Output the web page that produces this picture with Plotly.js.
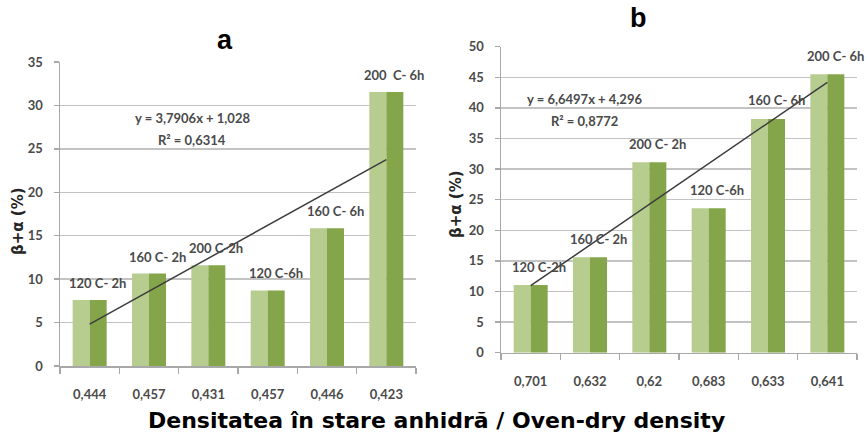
<!DOCTYPE html>
<html>
<head>
<meta charset="utf-8">
<script src="https://cdn.plot.ly/plotly-3.0.1.min.js"></script>
<style>html,body{margin:0;padding:0;background:#fff;}#chart{width:866px;height:435px;}</style>
</head>
<body>
<div id="chart"></div>
<script>
// ---- data ----
const positions = [1, 2, 3, 4, 5, 6];
const categoriesA = ['0,444', '0,457', '0,431', '0,457', '0,446', '0,423'];
const valuesA = [7.6, 10.65, 11.6, 8.7, 15.85, 31.55];
const labelsA = ['120 C- 2h', '160 C- 2h', '200 C-2h', '120 C-6h', '160 C- 6h', '200  C- 6h'];
const trendXA = [1, 6];
const trendYA = [4.82, 23.77];
const equationA = ['y = 3,7906x + 1,028', 'R² = 0,6314'];

const categoriesB = ['0,701', '0,632', '0,62', '0,683', '0,633', '0,641'];
const valuesB = [11.05, 15.6, 31.1, 23.6, 38.2, 45.5];
const labelsB = ['120 C-2h', '160 C- 2h', '200 C- 2h', '120 C-6h', '160 C- 6h', '200 C- 6h'];
const trendXB = [1, 6];
const trendYB = [10.95, 44.19];
const equationB = ['y = 6,6497x + 4,296', 'R² = 0,8772'];

const yTitle = 'β+α (%)';
const titleA = 'a';
const titleB = 'b';
const xTitle = 'Densitatea în stare anhidră / Oven-dry density';

// ---- style ----
const W = 866, H = 435;
const px = x => x / W;
const py = y => 1 - y / H;
const light = '#b6cd8f';
const dark = '#85a54a';
const gridC = '#c3c3c3';
const axisC = '#a8a8a8';
const tickFont = {family: 'Lato, sans-serif', size: 13, color: '#4a4a4a', weight: 'bold'};

function bars(vals, xa, ya) {
  return [
    {type: 'bar', x: positions, y: vals, xaxis: xa, yaxis: ya, marker: {color: light, line: {width: 0}}, hoverinfo: 'skip', showlegend: false},
    {type: 'bar', x: positions, y: vals, xaxis: xa, yaxis: ya, marker: {color: dark, line: {width: 0}}, hoverinfo: 'skip', showlegend: false}
  ];
}
function trend(tx, ty, xa, ya) {
  return {type: 'scatter', mode: 'lines', x: tx, y: ty, xaxis: xa, yaxis: ya, line: {color: '#3c3c3c', width: 1.5}, hoverinfo: 'skip', showlegend: false};
}

const data = [
  ...bars(valuesA, 'x', 'y'), trend(trendXA, trendYA, 'x', 'y'),
  ...bars(valuesB, 'x2', 'y2'), trend(trendXB, trendYB, 'x2', 'y2')
];

function xax(domain, cats) {
  return {
    domain: domain, range: [0.5, 6.5], tickmode: 'array', tickvals: positions, ticktext: cats,
    ticks: '', showline: true, linecolor: axisC, linewidth: 1.5, showgrid: false, zeroline: false,
    tickfont: tickFont, ticklabelstandoff: 16, fixedrange: true,
    minor: {tickmode: 'linear', tick0: 0.5, dtick: 1, ticks: 'outside', ticklen: 6, tickcolor: axisC, tickwidth: 1.5, showgrid: false}
  };
}
function yax(domain, range, anchor) {
  return {
    domain: domain, range: range, dtick: 5, tick0: 0, anchor: anchor,
    ticks: 'outside', ticklen: 5, tickcolor: axisC, tickwidth: 1.5,
    showline: true, linecolor: axisC, linewidth: 1.5,
    showgrid: true, gridcolor: gridC, gridwidth: 1.5, zeroline: false,
    tickfont: tickFont, ticklabelstandoff: 8, fixedrange: true
  };
}

const annotations = [];
function barLabels(labels, vals, xr, yr, ys) {
  labels.forEach((t, i) => annotations.push({
    x: positions[i], y: vals[i], xref: xr, yref: yr, text: t, showarrow: false,
    xanchor: 'center', yanchor: 'middle', xshift: 8, yshift: ys, font: tickFont
  }));
}
barLabels(labelsA, valuesA, 'x', 'y', 17);
barLabels(labelsB, valuesB, 'x2', 'y2', 18.5);

function paperText(t, x, y, font, angle) {
  annotations.push({x: px(x), y: py(y), xref: 'paper', yref: 'paper', text: t, showarrow: false,
    xanchor: 'center', yanchor: 'middle', font: font, textangle: angle || 0});
}
paperText(equationA[0], 192, 118, tickFont);
paperText(equationA[1], 192, 140, tickFont);
paperText(equationB[0], 584, 99, tickFont);
paperText(equationB[1], 584, 121, tickFont);
const yTitleFont = {family: 'DejaVu Sans, sans-serif', size: 15, color: '#262626', weight: 'bold'};
paperText('<b>' + yTitle + '</b>', 18, 221, yTitleFont, -90);
paperText('<b>' + yTitle + '</b>', 456, 204, yTitleFont, -90);
const titleFont = {family: 'Liberation Sans, Arial, sans-serif', size: 27, color: '#000', weight: 'bold'};
paperText('<b>' + titleA + '</b>', 225, 40, titleFont);
paperText('<b>' + titleB + '</b>', 638, 18, titleFont);
paperText('<b>' + xTitle + '</b>', 436, 420, {family: 'DejaVu Sans, sans-serif', size: 22, color: '#000'});

const layout = {
  width: W, height: H,
  margin: {l: 0, r: 0, t: 0, b: 0},
  paper_bgcolor: '#fff', plot_bgcolor: 'rgba(0,0,0,0)',
  barmode: 'group', bargap: 0.427, bargroupgap: 0,
  showlegend: false,
  xaxis: xax([px(60), px(416)], categoriesA),
  yaxis: yax([py(366), py(62)], [0, 35], 'x'),
  xaxis2: Object.assign(xax([px(501), px(857)], categoriesB), {anchor: 'y2'}),
  yaxis2: yax([py(352.7), py(46.7)], [0, 50], 'x2'),
  annotations: annotations
};
layout.xaxis.anchor = 'y';

Plotly.newPlot('chart', data, layout, {displayModeBar: false, staticPlot: true});
</script>
</body>
</html>
